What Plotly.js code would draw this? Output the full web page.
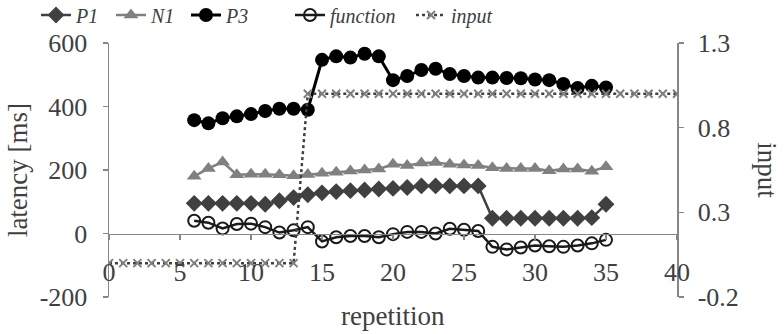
<!DOCTYPE html>
<html>
<head>
<meta charset="utf-8">
<script src="https://cdn.plot.ly/plotly-3.0.1.min.js"></script>
<style>html,body{margin:0;padding:0;background:#fff;}#chart{width:784px;height:334px;}</style>
</head>
<body>
<div id="chart"></div>
<script>
// ---- data ----
const reps = [6,7,8,9,10,11,12,13,14,15,16,17,18,19,20,21,22,23,24,25,26,27,28,29,30,31,32,33,34,35];
const P1 = [95,95,95,95,95,92,103,113,122,128,132,135,137,140,142,145,150,150,150,150,150,48,48,48,48,48,48,48,50,92];
const N1 = [180,205,225,185,187,187,185,182,186,190,193,197,200,203,218,214,222,224,218,216,214,207,205,205,205,198,203,203,196,210];
const P3 = [357,347,363,369,376,386,393,393,390,547,558,554,566,558,483,496,515,519,502,496,491,491,490,489,485,483,471,458,465,460];
const func = [40,34,16,30,31,20,3,10,20,-25,-12,-8,-8,-12,-2,5,5,0,15,12,8,-42,-50,-44,-38,-40,-42,-38,-31,-20];
const inputX = [0,1,2,3,4,5,6,7,8,9,10,11,12,13,14,15,16,17,18,19,20,21,22,23,24,25,26,27,28,29,30,31,32,33,34,35,36,37,38,39,40];
const inputY = [0,0,0,0,0,0,0,0,0,0,0,0,0,0,1,1,1,1,1,1,1,1,1,1,1,1,1,1,1,1,1,1,1,1,1,1,1,1,1,1,1];
const xTicks = [0,5,10,15,20,25,30,35,40];
const yTicks = [-200,0,200,400,600];
const yTickText = ['-200','0','200','400','600'];
const y2Ticks = [-0.2,0.3,0.8,1.3];
const y2TickText = ['-0.2','0.3','0.8','1.3'];

const FONT = 'Liberation Serif';
const TXT = '#404040';
const AX = '#868686';
const TICK = 26, TITLE = 27, LEG = 20;

const traces = [
  {x: reps, y: P1, name: 'P1', legend: 'legend', mode: 'lines+markers',
   line: {color: '#404040', width: 2.5}, marker: {symbol: 'diamond', size: 13, color: '#404040'}},
  {x: reps, y: N1, name: 'N1', legend: 'legend2', mode: 'lines+markers',
   line: {color: '#808080', width: 2.5}, marker: {symbol: 'triangle-up', size: 13, color: '#808080'}},
  {x: reps, y: P3, name: 'P3', legend: 'legend3', mode: 'lines+markers',
   line: {color: '#000000', width: 3}, marker: {symbol: 'circle', size: 14, color: '#000000'}},
  {x: reps, y: func, name: 'function', legend: 'legend4', mode: 'lines+markers',
   line: {color: '#1a1a1a', width: 2.5}, marker: {symbol: 'circle-open', size: 12, color: '#1a1a1a', line: {width: 2, color: '#1a1a1a'}}},
  {x: inputX, y: inputY, name: 'input', legend: 'legend5', mode: 'lines+markers', yaxis: 'y2',
   line: {color: '#404040', width: 2.5, dash: 'dot'}, marker: {symbol: 'x-thin', size: 8, color: '#7f7f7f', line: {width: 2, color: '#7f7f7f'}}}
];

function leg(px) {
  return {orientation: 'h', xref: 'container', yref: 'container', x: px / 784, y: 1 - 15 / 334,
          yanchor: 'middle', xanchor: 'left', itemwidth: 30,
          font: {family: FONT, size: LEG, color: TXT, style: 'italic'}, bgcolor: 'rgba(0,0,0,0)'};
}

const layout = {
  width: 784, height: 334,
  margin: {l: 109, r: 107, t: 43, b: 37},
  paper_bgcolor: '#ffffff', plot_bgcolor: '#ffffff',
  font: {family: FONT, size: TICK, color: TXT},
  showlegend: true,
  legend: leg(36), legend2: leg(111), legend3: leg(186), legend4: leg(290), legend5: leg(411),
  xaxis: {range: [0, 40], tickvals: xTicks, ticktext: xTicks.map(String), anchor: 'free', position: 0.25,
          showline: true, linecolor: AX, linewidth: 1.5, ticks: 'outside', ticklen: 5, tickcolor: AX, tickwidth: 1.5,
          showgrid: false, zeroline: false, ticklabelstandoff: 10, tickfont: {family: FONT, size: TICK, color: TXT}},
  yaxis: {range: [-200, 600], tickvals: yTicks, ticktext: yTickText, showline: true, linecolor: AX, linewidth: 1.5,
          ticks: 'outside', ticklen: 5, tickcolor: AX, tickwidth: 1.5, showgrid: false, zeroline: false,
          ticklabelstandoff: 10, tickfont: {family: FONT, size: TICK, color: TXT}},
  yaxis2: {range: [-0.2, 1.3], tickvals: y2Ticks, ticktext: y2TickText, overlaying: 'y', side: 'right',
           showline: true, linecolor: AX, linewidth: 1.5, ticks: 'outside', ticklen: 5, tickcolor: AX, tickwidth: 1.5,
           showgrid: false, zeroline: false, ticklabelstandoff: 9, tickfont: {family: FONT, size: TICK, color: TXT}},
  annotations: [
    {text: 'latency [ms]', xref: 'paper', yref: 'paper', x: -0.16, y: 0.5, textangle: -90, showarrow: false,
     xanchor: 'center', yanchor: 'middle', font: {family: FONT, size: TITLE, color: TXT}},
    {text: 'input', xref: 'paper', yref: 'paper', x: 1.158, y: 0.5, textangle: 90, showarrow: false,
     xanchor: 'center', yanchor: 'middle', font: {family: FONT, size: TITLE, color: TXT}},
    {text: 'repetition', xref: 'paper', yref: 'paper', x: 0.5, y: -0.076, showarrow: false,
     xanchor: 'center', yanchor: 'middle', font: {family: FONT, size: TITLE, color: TXT}}
  ]
};

Plotly.newPlot('chart', traces, layout, {staticPlot: true, displayModeBar: false});
</script>
</body>
</html>
